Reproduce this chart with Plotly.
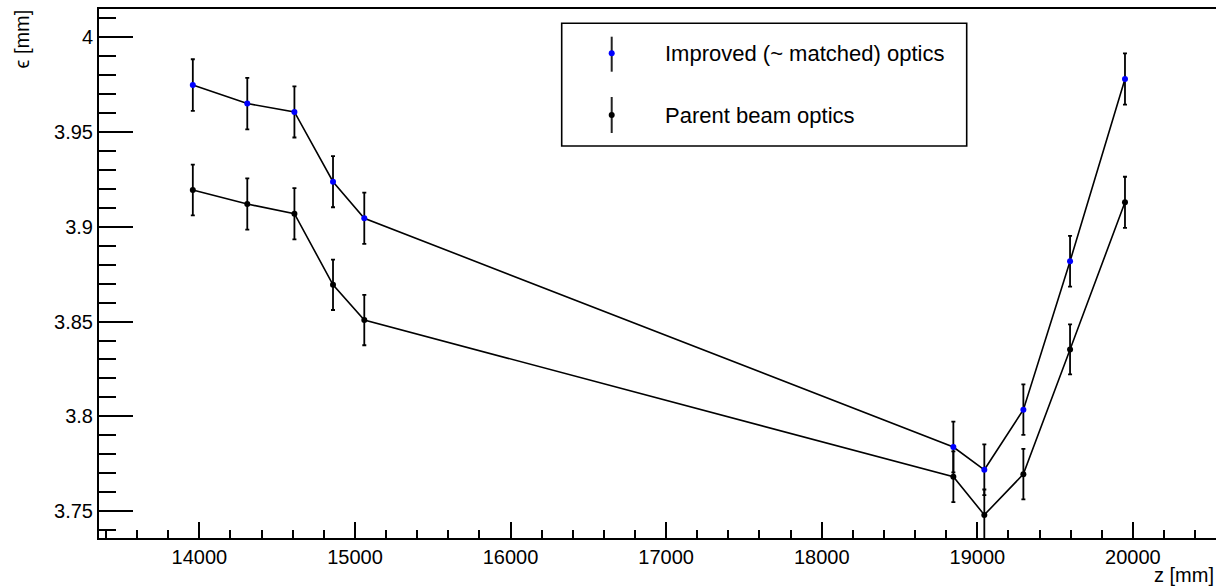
import plotly.graph_objects as go

# ---- data ----
z_positions = [13958, 14308, 14611, 14859, 15060, 18846, 19045, 19296, 19596, 19949]
eps_improved = [3.9748, 3.9650, 3.9606, 3.9238, 3.9045, 3.7838, 3.7718, 3.8035, 3.8818, 3.9780]
err_improved = [0.0136, 0.0136, 0.0135, 0.0135, 0.0135, 0.0134, 0.0134, 0.0133, 0.0134, 0.0135]
eps_parent = [3.9194, 3.9120, 3.9069, 3.8694, 3.8508, 3.7681, 3.7480, 3.7695, 3.8353, 3.9129]
err_parent = [0.0134, 0.0135, 0.0135, 0.0133, 0.0133, 0.0134, 0.0134, 0.0133, 0.0132, 0.0135]

series_names = ["Improved (~ matched) optics", "Parent beam optics"]
x_tick_vals = [14000, 15000, 16000, 17000, 18000, 19000, 20000]
x_tick_text = ["14000", "15000", "16000", "17000", "18000", "19000", "20000"]
y_tick_vals = [3.75, 3.8, 3.85, 3.9, 3.95, 4.0]
y_tick_text = ["3.75", "3.8", "3.85", "3.9", "3.95", "4"]

FONT = "Liberation Sans, Arial, Helvetica, sans-serif"
W, H = 1216, 586
L, R, T, B = 99, 0, 9, 48
PW, PH = W - L - R, H - T - B


def px(xp):
    return (xp - L) / PW


def py(yp):
    return (H - B - yp) / PH


fig = go.Figure()

for eps, err, col in [(eps_improved, err_improved, "#0000ff"), (eps_parent, err_parent, "#000000")]:
    fig.add_trace(go.Scatter(
        x=z_positions, y=eps,
        mode="lines+markers",
        line=dict(color="black", width=1.6),
        marker=dict(color=col, size=6, line=dict(width=0)),
        error_y=dict(type="data", array=err, visible=True, color="black",
                     thickness=1.8, width=2),
        showlegend=False,
        hoverinfo="x+y",
    ))

fig.update_layout(
    width=W, height=H, autosize=False,
    margin=dict(l=L, r=R, t=T, b=B, pad=0),
    paper_bgcolor="white", plot_bgcolor="white",
    font=dict(family=FONT, size=20, color="black"),
    xaxis=dict(
        range=[13355, 20534],
        showgrid=False, zeroline=False,
        showline=True, linecolor="black", linewidth=2, mirror=True,
        ticks="inside", ticklen=16, tickwidth=1.6, tickcolor="black",
        tickvals=x_tick_vals, ticktext=x_tick_text,
        tickfont=dict(family=FONT, size=20, color="black"),
        minor=dict(ticks="inside", ticklen=8, tickwidth=1.6, tickcolor="black",
                   dtick=200, tick0=0, showgrid=False),
    ),
    yaxis=dict(
        range=[3.7358, 4.0149],
        showgrid=False, zeroline=False,
        showline=True, linecolor="black", linewidth=2, mirror=False,
        ticks="inside", ticklen=34, tickwidth=1.6, tickcolor="black",
        tickvals=y_tick_vals, ticktext=y_tick_text,
        tickfont=dict(family=FONT, size=20, color="black"),
        minor=dict(ticks="inside", ticklen=17, tickwidth=1.6, tickcolor="black",
                   dtick=0.01, tick0=0, showgrid=False),
    ),
)

# axis titles
fig.add_annotation(text="z [mm]", xref="paper", yref="paper",
                   x=1.0, y=py(588), xanchor="right", yanchor="bottom",
                   showarrow=False, font=dict(family=FONT, size=20, color="black"))
fig.add_annotation(text="ϵ [mm]", xref="paper", yref="paper",
                   x=px(22), y=py(8), xanchor="center", yanchor="top",
                   textangle=-90, showarrow=False,
                   font=dict(family=FONT, size=20, color="black"))

# legend box drawn manually (ROOT style)
shapes = [dict(type="rect", xref="paper", yref="paper",
               x0=px(561.7), x1=px(966.7), y0=py(146), y1=py(23.3),
               line=dict(color="black", width=1.6), fillcolor="white", layer="above")]
entries = [(53.3, 36.7, 71.7, "#0000ff"), (115, 97, 133, "#000000")]
for (yc, y0, y1, col), name in zip(entries, series_names):
    shapes.append(dict(type="line", xref="paper", yref="paper",
                       x0=px(611.7), x1=px(611.7), y0=py(y1), y1=py(y0),
                       line=dict(color="#222222", width=2), layer="above"))
    shapes.append(dict(type="circle", xref="paper", yref="paper",
                       x0=px(611.7 - 3), x1=px(611.7 + 3), y0=py(yc + 3), y1=py(yc - 3),
                       line=dict(width=0), fillcolor=col, layer="above"))
    fig.add_annotation(text=name, xref="paper", yref="paper",
                       x=px(663), y=py(yc), xanchor="left", yanchor="middle",
                       showarrow=False, font=dict(family=FONT, size=22, color="black"))
fig.update_layout(shapes=shapes)

fig.write_html("out.html")
